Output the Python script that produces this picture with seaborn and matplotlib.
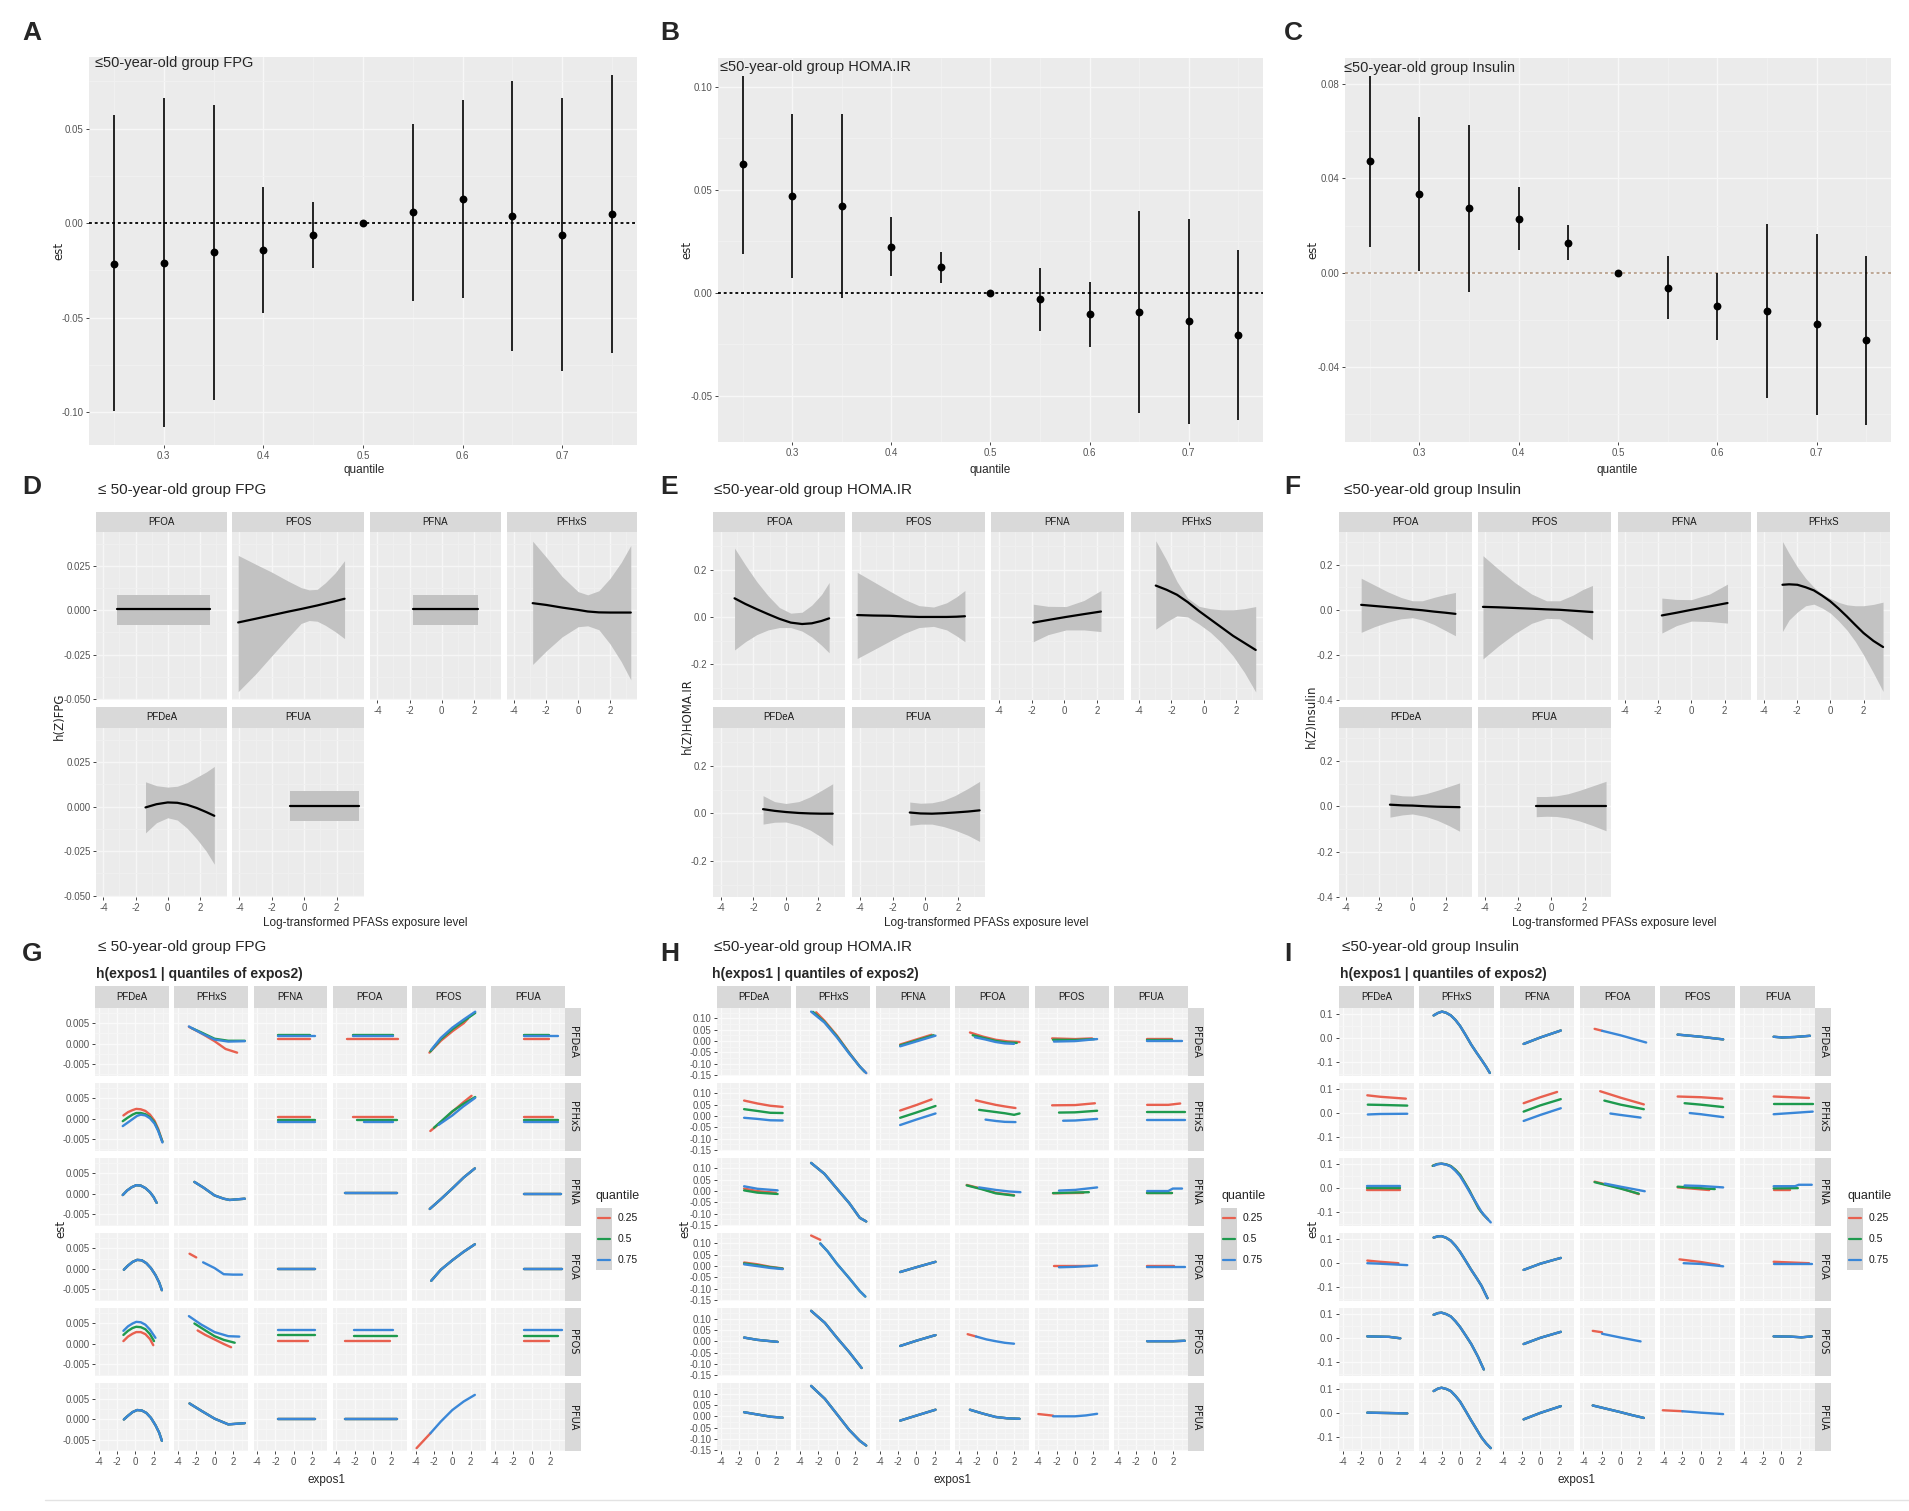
import matplotlib
matplotlib.use('Agg')
import matplotlib.pyplot as plt
import seaborn as sns
from matplotlib.ticker import FixedLocator
from matplotlib.lines import Line2D

sns.set_theme(style='darkgrid')
plt.rcParams['font.family'] = ['Liberation Sans Narrow', 'Liberation Sans', 'DejaVu Sans']
plt.rcParams['axes.unicode_minus'] = False

# ---------------- DATA: panels A-C (overall effect by quantile) ----------------
QUANT = [0.25, 0.30, 0.35, 0.40, 0.45, 0.50, 0.55, 0.60, 0.65, 0.70, 0.75]
A_EST = [-0.0216, -0.021, -0.0153, -0.014, -0.0061, 0.0, 0.0058, 0.0128, 0.0039, -0.0061, 0.0047]
A_LO = [-0.0995, -0.108, -0.0935, -0.0474, -0.0237, 0.0, -0.0412, -0.0395, -0.0675, -0.078, -0.0688]
A_HI = [0.057, 0.066, 0.0623, 0.019, 0.0114, 0.0, 0.0526, 0.0654, 0.0754, 0.0661, 0.0786]
B_EST = [0.0624, 0.0469, 0.0423, 0.0224, 0.0124, 0.0, -0.0031, -0.0103, -0.0095, -0.0139, -0.0203]
B_LO = [0.0189, 0.0074, -0.0024, 0.0084, 0.0048, 0.0, -0.0185, -0.0265, -0.0585, -0.0639, -0.0618]
B_HI = [0.1055, 0.0866, 0.0866, 0.0366, 0.0197, 0.0, 0.0121, 0.0052, 0.0395, 0.0358, 0.021]
C_EST = [0.0473, 0.0332, 0.0274, 0.0229, 0.0127, 0.0, -0.0065, -0.0143, -0.0163, -0.0219, -0.0287]
C_LO = [0.011, 0.0007, -0.0082, 0.0095, 0.0054, 0.0, -0.0198, -0.0286, -0.0533, -0.0604, -0.0646]
C_HI = [0.0837, 0.066, 0.0629, 0.0363, 0.0201, 0.0, 0.0071, 0.0, 0.0208, 0.0163, 0.0071]

# ---------------- DATA: panels D-F (univariate exposure-response) ----------------
FACET_ORDER = ['PFOA', 'PFOS', 'PFNA', 'PFHxS', 'PFDeA', 'PFUA']
D_X = {'PFOA': [-3.18, 2.64],
       'PFOS': [-4.08, -3.0, -2.0, -1.0, -0.2, 0.3, 0.8, 1.3, 1.9, 2.49],
       'PFNA': [-1.79, 2.28],
       'PFHxS': [-2.85, -2.0, -1.0, 0.0, 0.6, 1.3, 2.0, 2.7, 3.3],
       'PFDeA': [-1.38, -0.7, 0.0, 0.6, 1.2, 1.8, 2.4, 2.9],
       'PFUA': [-0.85, 3.36]}
D_EST = {'PFOA': [0.0005, 0.0005],
         'PFOS': [-0.0069, -0.0048, -0.0028, -0.0008, 0.0007, 0.0017, 0.0027, 0.0038, 0.0051, 0.0065],
         'PFNA': [0.0005, 0.0005],
         'PFHxS': [0.004, 0.003, 0.0015, 0.0002, -0.0007, -0.0012, -0.0013, -0.0013, -0.0013],
         'PFDeA': [-0.0004, 0.0014, 0.0024, 0.0022, 0.0011, -0.0007, -0.003, -0.0051],
         'PFUA': [0.0005, 0.0005]}
D_LO = {'PFOA': [-0.0083, -0.0083],
        'PFOS': [-0.046, -0.036, -0.0257, -0.0155, -0.0075, -0.0058, -0.0062, -0.0085, -0.012, -0.016],
        'PFNA': [-0.0083, -0.0083],
        'PFHxS': [-0.0306, -0.023, -0.015, -0.0093, -0.0088, -0.011, -0.019, -0.029, -0.0393],
        'PFDeA': [-0.0147, -0.009, -0.0062, -0.0075, -0.012, -0.018, -0.025, -0.0323],
        'PFUA': [-0.0083, -0.0083]}
D_HI = {'PFOA': [0.0086, 0.0086],
        'PFOS': [0.031, 0.026, 0.0215, 0.0165, 0.0128, 0.0115, 0.0118, 0.0155, 0.021, 0.028],
        'PFNA': [0.0086, 0.0086],
        'PFHxS': [0.039, 0.030, 0.019, 0.0105, 0.0087, 0.011, 0.018, 0.027, 0.0366],
        'PFDeA': [0.014, 0.0118, 0.011, 0.0115, 0.0135, 0.0165, 0.0195, 0.0226],
        'PFUA': [0.0086, 0.0086]}

E_X = {'PFOA': [-3.17, -2.5, -1.8, -1.1, -0.4, 0.3, 1.0, 1.6, 2.2, 2.67],
       'PFOS': [-4.18, -3.2, -2.2, -1.3, -0.4, 0.5, 1.3, 1.9, 2.42],
       'PFNA': [-1.91, -1.0, 0.1, 1.2, 2.24],
       'PFHxS': [-2.97, -2.3, -1.66, -1.0, -0.3, 0.4, 1.1, 1.8, 2.5, 3.2],
       'PFDeA': [-1.41, -0.7, 0.0, 0.8, 1.5, 2.2, 2.89],
       'PFUA': [-0.96, -0.3, 0.4, 1.1, 1.8, 2.6, 3.32]}
E_EST = {'PFOA': [0.079, 0.055, 0.033, 0.012, -0.008, -0.024, -0.030, -0.027, -0.017, -0.006],
         'PFOS': [0.008, 0.006, 0.005, 0.002, 0.0, 0.0, 0.0, 0.001, 0.003],
         'PFNA': [-0.024, -0.013, 0.0, 0.012, 0.023],
         'PFHxS': [0.133, 0.115, 0.094, 0.063, 0.025, -0.01, -0.045, -0.08, -0.11, -0.14],
         'PFDeA': [0.018, 0.011, 0.006, 0.002, 0.0, -0.001, -0.001],
         'PFUA': [0.004, 0.0, -0.001, 0.001, 0.004, 0.008, 0.013]}
E_LO = {'PFOA': [-0.14, -0.105, -0.075, -0.055, -0.045, -0.045, -0.06, -0.085, -0.12, -0.152],
        'PFOS': [-0.176, -0.14, -0.103, -0.07, -0.045, -0.04, -0.055, -0.08, -0.105],
        'PFNA': [-0.105, -0.075, -0.055, -0.055, -0.062],
        'PFHxS': [-0.052, -0.02, 0.005, 0.0, -0.03, -0.065, -0.11, -0.165, -0.235, -0.318],
        'PFDeA': [-0.045, -0.037, -0.036, -0.05, -0.07, -0.1, -0.135],
        'PFUA': [-0.05, -0.045, -0.045, -0.055, -0.07, -0.092, -0.118]}
E_HI = {'PFOA': [0.292, 0.22, 0.15, 0.09, 0.04, 0.016, 0.02, 0.05, 0.095, 0.146],
        'PFOS': [0.189, 0.15, 0.11, 0.075, 0.048, 0.042, 0.06, 0.085, 0.112],
        'PFNA': [0.054, 0.045, 0.044, 0.07, 0.112],
        'PFHxS': [0.323, 0.24, 0.15, 0.08, 0.045, 0.035, 0.03, 0.03, 0.035, 0.044],
        'PFDeA': [0.075, 0.05, 0.042, 0.05, 0.07, 0.097, 0.125],
        'PFUA': [0.048, 0.043, 0.045, 0.055, 0.075, 0.105, 0.135]}

F_X = {'PFOA': [-3.1, -2.3, -1.5, -0.7, 0.0, 0.6, 1.3, 2.0, 2.6],
       'PFOS': [-4.14, -3.2, -2.2, -1.2, -0.3, 0.5, 1.3, 1.9, 2.48],
       'PFNA': [-1.79, -0.9, 0.0, 1.1, 2.18],
       'PFHxS': [-2.9, -2.5, -2.0, -1.5, -1.0, -0.5, 0.0, 0.5, 1.0, 1.5, 2.0, 2.6, 3.18],
       'PFDeA': [-1.36, -0.6, 0.0, 0.8, 1.5, 2.2, 2.85],
       'PFUA': [-0.92, -0.3, 0.3, 1.0, 1.7, 2.5, 3.3]}
F_EST = {'PFOA': [0.022, 0.017, 0.012, 0.007, 0.002, -0.002, -0.008, -0.013, -0.018],
         'PFOS': [0.013, 0.011, 0.008, 0.005, 0.002, 0.0, -0.004, -0.007, -0.01],
         'PFNA': [-0.025, -0.013, 0.0, 0.015, 0.03],
         'PFHxS': [0.111, 0.113, 0.111, 0.1, 0.086, 0.063, 0.037, 0.005, -0.03, -0.067, -0.103, -0.138, -0.165],
         'PFDeA': [0.007, 0.004, 0.003, 0.0, -0.002, -0.003, -0.004],
         'PFUA': [0.0, 0.0, 0.0, 0.0, 0.0, 0.0, 0.0]}
F_LO = {'PFOA': [-0.1, -0.075, -0.055, -0.04, -0.035, -0.045, -0.065, -0.092, -0.115],
        'PFOS': [-0.218, -0.16, -0.105, -0.06, -0.038, -0.04, -0.075, -0.105, -0.133],
        'PFNA': [-0.103, -0.07, -0.05, -0.052, -0.059],
        'PFHxS': [-0.096, -0.045, -0.01, 0.018, 0.025, 0.008, -0.015, -0.05, -0.09, -0.14, -0.2, -0.28, -0.362],
        'PFDeA': [-0.048, -0.038, -0.034, -0.045, -0.062, -0.085, -0.11],
        'PFUA': [-0.046, -0.044, -0.045, -0.052, -0.065, -0.085, -0.108]}
F_HI = {'PFOA': [0.14, 0.11, 0.08, 0.055, 0.04, 0.04, 0.055, 0.068, 0.077],
        'PFOS': [0.24, 0.18, 0.12, 0.07, 0.04, 0.04, 0.065, 0.09, 0.108],
        'PFNA': [0.052, 0.046, 0.045, 0.07, 0.114],
        'PFHxS': [0.303, 0.25, 0.19, 0.14, 0.1, 0.07, 0.05, 0.033, 0.022, 0.018, 0.018, 0.024, 0.034],
        'PFDeA': [0.054, 0.046, 0.045, 0.055, 0.07, 0.087, 0.103],
        'PFUA': [0.043, 0.043, 0.046, 0.055, 0.07, 0.09, 0.11]}

# ---------------- DATA: panels G-I (bivariate: expos1 | quantiles of expos2) ----------------
PFAS = ['PFDeA', 'PFHxS', 'PFNA', 'PFOA', 'PFOS', 'PFUA']
QLEVELS = [0.25, 0.5, 0.75]
QLABELS = ['0.25', '0.5', '0.75']
# (row = expos2, col = expos1, quantile or 'all', x values, est values)
G_CURVES = [
    ('PFDeA', 'PFHxS', 0.25, [-2.8, -1.5, 0.0, 1.2, 2.46], [0.0041, 0.0026, 0.0006, -0.0013, -0.0022]),
    ('PFDeA', 'PFHxS', 0.5, [-2.5, -1.5, 0.0, 1.5, 3.3], [0.0038, 0.0028, 0.0012, 0.0007, 0.0007]),
    ('PFDeA', 'PFHxS', 0.75, [-2.8, -1.5, 0.0, 1.5, 3.3], [0.0042, 0.0026, 0.001, 0.0005, 0.0006]),
    ('PFDeA', 'PFNA', 0.25, [-1.7, 1.8], [0.0011, 0.0011]),
    ('PFDeA', 'PFNA', 0.5, [-1.7, 1.8], [0.0021, 0.0021]),
    ('PFDeA', 'PFNA', 0.75, [-1.7, 2.3], [0.0018, 0.0018]),
    ('PFDeA', 'PFOA', 0.25, [-2.8, 2.7], [0.0011, 0.0011]),
    ('PFDeA', 'PFOA', 0.5, [-2.24, 2.15], [0.0021, 0.0021]),
    ('PFDeA', 'PFOA', 0.75, [-2.24, 2.15], [0.0019, 0.0019]),
    ('PFDeA', 'PFOS', 0.25, [-2.5, -1.25, 0.0, 1.25, 1.7], [-0.0022, 0.0007, 0.003, 0.005, 0.0061]),
    ('PFDeA', 'PFOS', 0.5, [-2.4, -1.25, 0.0, 1.25, 2.5], [-0.0019, 0.0011, 0.0035, 0.0055, 0.0075]),
    ('PFDeA', 'PFOS', 0.75, [-2.3, -1.25, 0.0, 1.25, 2.5], [-0.0015, 0.0014, 0.0039, 0.0059, 0.0078]),
    ('PFDeA', 'PFUA', 0.25, [-0.85, 1.9], [0.0011, 0.0011]),
    ('PFDeA', 'PFUA', 0.5, [-0.85, 1.9], [0.0021, 0.0021]),
    ('PFDeA', 'PFUA', 0.75, [-0.85, 2.9], [0.0018, 0.0018]),

    ('PFHxS', 'PFDeA', 0.25, [-1.3, -0.8, -0.3, 0.1, 0.6, 1.1, 1.6, 2.1, 2.5, 2.96],
     [0.0008, 0.0016, 0.0021, 0.0024, 0.0023, 0.0019, 0.001, -0.0005, -0.0025, -0.0056]),
    ('PFHxS', 'PFDeA', 0.5, [-1.37, -0.8, -0.3, 0.1, 0.6, 1.1, 1.6, 2.1, 2.5, 2.96],
     [-0.0006, 0.0003, 0.001, 0.0014, 0.0014, 0.0011, 0.0004, -0.0009, -0.0028, -0.0056]),
    ('PFHxS', 'PFDeA', 0.75, [-1.37, -0.8, -0.3, 0.2, 0.6, 1.1, 1.6, 2.1, 2.5, 2.96],
     [-0.0018, -0.0009, -0.0001, 0.0007, 0.001, 0.0008, 0.0001, -0.0012, -0.003, -0.0058]),
    ('PFHxS', 'PFNA', 0.25, [-1.7, 1.8], [0.0004, 0.0004]),
    ('PFHxS', 'PFNA', 0.5, [-1.7, 2.3], [-0.0002, -0.0002]),
    ('PFHxS', 'PFNA', 0.75, [-1.7, 2.3], [-0.0008, -0.0008]),
    ('PFHxS', 'PFOA', 0.25, [-2.24, 2.15], [0.0004, 0.0004]),
    ('PFHxS', 'PFOA', 0.5, [-1.8, 2.6], [-0.0002, -0.0002]),
    ('PFHxS', 'PFOA', 0.75, [-1.0, 2.15], [-0.0008, -0.0008]),
    ('PFHxS', 'PFOS', 0.25, [-2.4, -1.2, 0.0, 1.2, 2.1], [-0.003, -0.0008, 0.0017, 0.004, 0.0056]),
    ('PFHxS', 'PFOS', 0.5, [-2.0, -1.0, 0.0, 1.2, 2.5], [-0.0022, -0.0002, 0.0018, 0.0036, 0.0053]),
    ('PFHxS', 'PFOS', 0.75, [-1.5, 0.0, 1.2, 2.5], [-0.0015, 0.0008, 0.003, 0.0051]),
    ('PFHxS', 'PFUA', 0.25, [-0.85, 2.3], [0.0004, 0.0004]),
    ('PFHxS', 'PFUA', 0.5, [-0.85, 2.9], [-0.0002, -0.0002]),
    ('PFHxS', 'PFUA', 0.75, [-0.85, 2.9], [-0.0008, -0.0008]),

    ('PFNA', 'PFDeA', 'all', [-1.37, -0.9, -0.4, 0.1, 0.6, 1.1, 1.6, 2.0, 2.33],
     [-0.0003, 0.0008, 0.0016, 0.0021, 0.002, 0.0014, 0.0004, -0.0008, -0.0022]),
    ('PFNA', 'PFHxS', 'all', [-2.2, -1.2, 0.0, 1.0, 1.65, 3.3], [0.0029, 0.0015, -0.0004, -0.0012, -0.0015, -0.0012]),
    ('PFNA', 'PFOA', 'all', [-3.1, 2.6], [0.0001, 0.0001]),
    ('PFNA', 'PFOS', 'all', [-2.46, -1.25, 0.0, 1.25, 2.46], [-0.0037, -0.0013, 0.0013, 0.004, 0.0062]),
    ('PFNA', 'PFUA', 'all', [-0.85, 3.2], [0.0, 0.0]),

    ('PFOA', 'PFDeA', 'all', [-1.25, -0.8, -0.3, 0.2, 0.7, 1.2, 1.7, 2.2, 2.6, 2.9],
     [-0.0002, 0.0008, 0.0017, 0.0022, 0.0021, 0.0014, 0.0002, -0.0015, -0.0033, -0.0052]),
    ('PFOA', 'PFHxS', 0.25, [-2.73, -2.0], [0.0037, 0.0028]),
    ('PFOA', 'PFHxS', 0.75, [-1.25, 0.0, 1.0, 2.0, 3.0], [0.0016, 0.0002, -0.0013, -0.0014, -0.0014]),
    ('PFOA', 'PFNA', 'all', [-1.7, 2.3], [0.0, 0.0]),
    ('PFOA', 'PFOS', 'all', [-2.3, -1.25, 0.0, 1.25, 2.46], [-0.0029, -0.0002, 0.0021, 0.0042, 0.006]),
    ('PFOA', 'PFUA', 'all', [-0.85, 3.3], [0.0, 0.0]),

    ('PFOS', 'PFDeA', 0.25, [-1.3, -0.8, -0.3, 0.1, 0.6, 1.1, 1.6, 1.96],
     [0.0007, 0.0018, 0.0025, 0.0029, 0.0029, 0.0024, 0.0012, -0.0003]),
    ('PFOS', 'PFDeA', 0.5, [-1.3, -0.8, -0.3, 0.1, 0.6, 1.1, 1.6, 2.04],
     [0.0022, 0.0032, 0.0039, 0.0042, 0.0041, 0.0036, 0.0024, 0.0007]),
    ('PFOS', 'PFDeA', 0.75, [-1.3, -0.8, -0.3, 0.1, 0.6, 1.1, 1.6, 2.2],
     [0.0032, 0.0043, 0.005, 0.0054, 0.0053, 0.0047, 0.0035, 0.0015]),
    ('PFOS', 'PFHxS', 0.25, [-1.85, -1.0, 0.0, 1.0, 1.8], [0.0033, 0.0022, 0.0011, 0.0, -0.0008]),
    ('PFOS', 'PFHxS', 0.5, [-2.2, -1.0, 0.0, 1.0, 2.2], [0.005, 0.0033, 0.0019, 0.001, 0.0003]),
    ('PFOS', 'PFHxS', 0.75, [-2.8, -1.5, 0.0, 1.5, 2.7], [0.0068, 0.0048, 0.0029, 0.0019, 0.0018]),
    ('PFOS', 'PFNA', 0.25, [-1.7, 1.6], [0.0008, 0.0008]),
    ('PFOS', 'PFNA', 0.5, [-1.7, 2.3], [0.0021, 0.0021]),
    ('PFOS', 'PFNA', 0.75, [-1.7, 2.3], [0.0034, 0.0034]),
    ('PFOS', 'PFOA', 0.25, [-3.1, 1.8], [0.0008, 0.0008]),
    ('PFOS', 'PFOA', 0.5, [-2.1, 2.6], [0.0019, 0.0019]),
    ('PFOS', 'PFOA', 0.75, [-2.1, 2.15], [0.0033, 0.0033]),
    ('PFOS', 'PFUA', 0.25, [-0.85, 1.9], [0.0008, 0.0008]),
    ('PFOS', 'PFUA', 0.5, [-0.85, 2.9], [0.0019, 0.0019]),
    ('PFOS', 'PFUA', 0.75, [-0.85, 3.3], [0.0033, 0.0033]),

    ('PFUA', 'PFDeA', 'all', [-1.25, -0.8, -0.3, 0.2, 0.7, 1.2, 1.7, 2.2, 2.6, 2.9],
     [-0.0001, 0.0008, 0.0017, 0.0022, 0.0021, 0.0015, 0.0003, -0.0015, -0.0033, -0.0053]),
    ('PFUA', 'PFHxS', 'all', [-2.73, -1.5, 0.0, 1.5, 3.3], [0.0038, 0.0021, 0.0001, -0.0013, -0.001]),
    ('PFUA', 'PFNA', 'all', [-1.7, 2.3], [0.0, 0.0]),
    ('PFUA', 'PFOA', 'all', [-3.1, 2.6], [0.0, 0.0]),
    ('PFUA', 'PFOS', 0.25, [-3.9, -2.4], [-0.0071, -0.0035]),
    ('PFUA', 'PFOS', 0.75, [-2.4, -1.25, 0.0, 1.25, 2.46], [-0.0035, -0.0006, 0.0022, 0.0043, 0.0059]),
]

H_CURVES = [
    ('PFDeA', 'PFHxS', 0.25, [-2.25, -1.35, 0.0, 1.35, 2.5, 3.2], [0.126, 0.089, 0.024, -0.052, -0.113, -0.142]),
    ('PFDeA', 'PFHxS', 0.5, [-2.6, -1.35, 0.0, 1.35, 2.5, 3.0], [0.128, 0.084, 0.02, -0.054, -0.113, -0.135]),
    ('PFDeA', 'PFHxS', 0.75, [-2.8, -1.35, 0.0, 1.35, 2.5, 3.2], [0.129, 0.081, 0.016, -0.056, -0.113, -0.142]),
    ('PFDeA', 'PFNA', 0.25, [-1.75, 1.67], [-0.016, 0.027]),
    ('PFDeA', 'PFNA', 0.5, [-1.75, 1.9], [-0.02, 0.025]),
    ('PFDeA', 'PFNA', 0.75, [-1.75, 2.1], [-0.024, 0.023]),
    ('PFDeA', 'PFOA', 0.25, [-2.8, -1.4, 0.0, 1.3, 2.6], [0.037, 0.019, 0.005, -0.002, -0.005]),
    ('PFDeA', 'PFOA', 0.5, [-2.5, -1.2, 0.0, 1.2, 2.3], [0.025, 0.012, 0.0, -0.007, -0.009]),
    ('PFDeA', 'PFOA', 0.75, [-2.25, -1.1, 0.0, 1.0, 2.0], [0.016, 0.006, -0.005, -0.011, -0.013]),
    ('PFDeA', 'PFOS', 0.25, [-2.5, 0.0, 1.85], [0.011, 0.008, 0.011]),
    ('PFDeA', 'PFOS', 0.5, [-2.4, 0.0, 2.1], [0.005, 0.004, 0.008]),
    ('PFDeA', 'PFOS', 0.75, [-2.3, 0.0, 2.4], [-0.003, -0.001, 0.008]),
    ('PFDeA', 'PFUA', 0.25, [-0.8, 1.9], [0.008, 0.008]),
    ('PFDeA', 'PFUA', 0.5, [-0.8, 1.9], [0.004, 0.004]),
    ('PFDeA', 'PFUA', 0.75, [-0.8, 3.0], [0.0, 0.0]),

    ('PFHxS', 'PFDeA', 0.25, [-1.45, 0.0, 1.4, 2.75], [0.068, 0.055, 0.045, 0.04]),
    ('PFHxS', 'PFDeA', 0.5, [-1.45, 0.0, 1.4, 2.75], [0.03, 0.022, 0.014, 0.013]),
    ('PFHxS', 'PFDeA', 0.75, [-1.45, 0.0, 1.4, 2.75], [-0.008, -0.013, -0.019, -0.02]),
    ('PFHxS', 'PFNA', 0.25, [-1.75, 0.0, 1.67], [0.024, 0.048, 0.073]),
    ('PFHxS', 'PFNA', 0.5, [-1.75, 0.0, 2.1], [-0.008, 0.015, 0.044]),
    ('PFHxS', 'PFNA', 0.75, [-1.75, 0.0, 2.1], [-0.04, -0.016, 0.011]),
    ('PFHxS', 'PFOA', 0.25, [-2.16, -1.0, 0.0, 1.0, 2.16], [0.069, 0.058, 0.049, 0.042, 0.035]),
    ('PFHxS', 'PFOA', 0.5, [-1.8, -0.5, 1.0, 2.0, 2.6], [0.027, 0.02, 0.012, 0.005, 0.011]),
    ('PFHxS', 'PFOA', 0.75, [-1.1, 0.0, 1.0, 2.16], [-0.016, -0.022, -0.026, -0.027]),
    ('PFHxS', 'PFOS', 0.25, [-2.5, 0.0, 2.16], [0.047, 0.048, 0.056]),
    ('PFHxS', 'PFOS', 0.5, [-1.75, 0.0, 2.4], [0.015, 0.016, 0.023]),
    ('PFHxS', 'PFOS', 0.75, [-1.3, 0.0, 2.4], [-0.021, -0.02, -0.013]),
    ('PFHxS', 'PFUA', 0.25, [-0.8, 1.5, 2.8], [0.049, 0.049, 0.055]),
    ('PFHxS', 'PFUA', 0.5, [-0.8, 3.3], [0.019, 0.019]),
    ('PFHxS', 'PFUA', 0.75, [-0.8, 3.3], [-0.016, -0.016]),

    ('PFNA', 'PFDeA', 0.25, [-1.45, 0.0, 2.0], [0.011, 0.0, -0.008]),
    ('PFNA', 'PFDeA', 0.5, [-1.45, 0.0, 2.2], [0.003, -0.007, -0.013]),
    ('PFNA', 'PFDeA', 0.75, [-1.45, 0.0, 2.2], [0.021, 0.01, 0.003]),
    ('PFNA', 'PFHxS', 'all', [-2.8, -1.35, 0.0, 1.35, 2.5, 3.2], [0.124, 0.076, 0.011, -0.053, -0.118, -0.134]),
    ('PFNA', 'PFOA', 0.25, [-3.15, -1.5, 0.0, 2.0], [0.027, 0.01, -0.008, -0.018]),
    ('PFNA', 'PFOA', 0.5, [-3.15, -1.5, 0.0, 2.0], [0.025, 0.008, -0.01, -0.02]),
    ('PFNA', 'PFOA', 0.75, [-1.8, 0.0, 1.5, 2.7], [0.016, 0.005, -0.002, -0.005]),
    ('PFNA', 'PFOS', 0.25, [-2.4, 0.9], [-0.01, -0.008]),
    ('PFNA', 'PFOS', 0.5, [-2.4, 1.5], [-0.009, -0.005]),
    ('PFNA', 'PFOS', 0.75, [-1.75, 0.0, 2.4], [0.002, 0.005, 0.016]),
    ('PFNA', 'PFUA', 0.25, [-0.8, 1.9], [-0.01, -0.01]),
    ('PFNA', 'PFUA', 0.5, [-0.8, 1.9], [-0.01, -0.01]),
    ('PFNA', 'PFUA', 0.75, [-0.8, 1.5, 2.0, 3.0], [0.0, 0.0, 0.011, 0.011]),

    ('PFOA', 'PFDeA', 0.25, [-1.45, 0.0, 1.4, 2.75], [0.016, 0.008, -0.003, -0.01]),
    ('PFOA', 'PFDeA', 0.5, [-1.45, 0.0, 1.4, 2.75], [0.012, 0.004, -0.005, -0.011]),
    ('PFOA', 'PFDeA', 0.75, [-1.45, 0.0, 1.4, 2.75], [0.008, 0.0, -0.008, -0.013]),
    ('PFOA', 'PFHxS', 0.25, [-2.8, -1.8], [0.135, 0.116]),
    ('PFOA', 'PFHxS', 0.5, [-1.8, -1.0, 0.0, 1.35, 2.5, 3.1], [0.10, 0.065, 0.011, -0.053, -0.11, -0.134]),
    ('PFOA', 'PFHxS', 0.75, [-1.8, -1.0, 0.0, 1.35, 2.5, 3.1], [0.10, 0.065, 0.011, -0.053, -0.11, -0.134]),
    ('PFOA', 'PFNA', 'all', [-1.75, 0.0, 2.1], [-0.026, -0.005, 0.019]),
    ('PFOA', 'PFOS', 0.25, [-2.3, 1.6], [0.0, 0.0]),
    ('PFOA', 'PFOS', 0.75, [-1.75, 0.0, 2.4], [-0.005, -0.003, 0.003]),
    ('PFOA', 'PFUA', 0.25, [-0.8, 2.1], [0.0, 0.0]),
    ('PFOA', 'PFUA', 0.75, [-0.8, 3.3], [-0.005, -0.005]),

    ('PFOS', 'PFDeA', 'all', [-1.45, 0.0, 2.2], [0.016, 0.006, -0.003]),
    ('PFOS', 'PFHxS', 'all', [-2.8, -1.3, 0.0, 1.35, 2.7], [0.134, 0.081, 0.016, -0.048, -0.118]),
    ('PFOS', 'PFNA', 'all', [-1.75, 0.0, 2.1], [-0.021, 0.002, 0.027]),
    ('PFOS', 'PFOA', 0.25, [-3.05, -2.15], [0.031, 0.021]),
    ('PFOS', 'PFOA', 0.75, [-2.15, -1.0, 0.0, 1.0, 2.0], [0.021, 0.008, 0.0, -0.007, -0.011]),
    ('PFOS', 'PFUA', 'all', [-0.8, 2.0, 3.3], [0.0, 0.0, 0.002]),

    ('PFUA', 'PFDeA', 'all', [-1.45, 0.0, 1.5, 2.75], [0.018, 0.008, -0.002, -0.006]),
    ('PFUA', 'PFHxS', 'all', [-2.8, -1.3, 0.0, 1.35, 2.5, 3.2], [0.134, 0.077, 0.01, -0.06, -0.108, -0.129]),
    ('PFUA', 'PFNA', 'all', [-1.75, 0.0, 2.1], [-0.019, 0.003, 0.029]),
    ('PFUA', 'PFOA', 'all', [-2.8, -1.4, 0.0, 1.3, 2.6], [0.029, 0.012, -0.003, -0.009, -0.011]),
    ('PFUA', 'PFOS', 0.25, [-4.0, -2.4], [0.01, 0.003]),
    ('PFUA', 'PFOS', 0.75, [-2.4, 0.0, 1.2, 2.4], [0.0, 0.0, 0.004, 0.011]),
]

I_CURVES = [
    ('PFDeA', 'PFHxS', 'all', [-2.85, -2.4, -1.95, -1.5, -1.0, -0.5, 0.0, 0.6, 1.2, 1.8, 2.3, 2.8, 3.2],
     [0.094, 0.104, 0.11, 0.105, 0.094, 0.075, 0.05, 0.012, -0.028, -0.063, -0.091, -0.12, -0.146]),
    ('PFDeA', 'PFNA', 'all', [-1.8, 0.0, 2.2], [-0.025, 0.002, 0.031]),
    ('PFDeA', 'PFOA', 0.25, [-2.8, -2.0], [0.038, 0.03]),
    ('PFDeA', 'PFOA', 0.75, [-2.0, 0.0, 2.75], [0.03, 0.011, -0.019]),
    ('PFDeA', 'PFOS', 'all', [-2.5, 0.0, 2.4], [0.014, 0.005, -0.006]),
    ('PFDeA', 'PFUA', 'all', [-0.8, 0.1, 1.5, 3.1], [0.005, 0.002, 0.004, 0.009]),

    ('PFHxS', 'PFDeA', 0.25, [-1.35, 0.0, 2.8], [0.074, 0.068, 0.06]),
    ('PFHxS', 'PFDeA', 0.5, [-1.3, 0.0, 2.95], [0.035, 0.034, 0.031]),
    ('PFHxS', 'PFDeA', 0.75, [-1.3, 0.0, 2.95], [-0.006, -0.004, -0.003]),
    ('PFHxS', 'PFNA', 0.25, [-1.8, 0.0, 1.8], [0.041, 0.066, 0.088]),
    ('PFHxS', 'PFNA', 0.5, [-1.8, 0.0, 2.2], [0.006, 0.032, 0.058]),
    ('PFHxS', 'PFNA', 0.75, [-1.8, 0.0, 2.2], [-0.033, -0.008, 0.02]),
    ('PFHxS', 'PFOA', 0.25, [-2.2, 0.0, 2.5], [0.091, 0.064, 0.036]),
    ('PFHxS', 'PFOA', 0.5, [-1.75, 0.0, 2.5], [0.052, 0.035, 0.016]),
    ('PFHxS', 'PFOA', 0.75, [-1.1, 0.0, 2.15], [-0.002, -0.008, -0.019]),
    ('PFHxS', 'PFOS', 0.25, [-2.5, 0.0, 2.3], [0.069, 0.066, 0.06]),
    ('PFHxS', 'PFOS', 0.5, [-1.75, 0.0, 2.4], [0.041, 0.035, 0.025]),
    ('PFHxS', 'PFOS', 0.75, [-1.2, 0.0, 2.4], [0.0, -0.005, -0.017]),
    ('PFHxS', 'PFUA', 0.25, [-0.8, 3.0], [0.069, 0.063]),
    ('PFHxS', 'PFUA', 0.5, [-0.8, 3.4], [0.036, 0.036]),
    ('PFHxS', 'PFUA', 0.75, [-0.8, 3.4], [-0.005, 0.006]),

    ('PFNA', 'PFDeA', 0.25, [-1.35, 2.2], [-0.006, -0.006]),
    ('PFNA', 'PFDeA', 0.5, [-1.35, 2.2], [0.002, 0.002]),
    ('PFNA', 'PFDeA', 0.75, [-1.35, 2.2], [0.009, 0.009]),
    ('PFNA', 'PFHxS', 0.25, [-2.95, -2.5, -2.0, -1.5, -1.0, -0.5, 0.0, 0.5, 1.0, 1.5, 2.0, 2.5, 3.0],
     [0.093, 0.1, 0.102, 0.099, 0.092, 0.076, 0.055, 0.023, -0.01, -0.048, -0.085, -0.11, -0.13]),
    ('PFNA', 'PFHxS', 0.5, [-2.95, -2.5, -2.0, -1.5, -1.0, -0.5, 0.0, 0.5, 1.0, 1.5, 2.0, 2.5, 3.0],
     [0.093, 0.1, 0.102, 0.099, 0.092, 0.076, 0.055, 0.023, -0.01, -0.048, -0.085, -0.11, -0.13]),
    ('PFNA', 'PFHxS', 0.75, [-2.85, -2.4, -2.0, -1.5, -1.0, -0.5, 0.0, 0.6, 1.2, 1.8, 2.3, 2.8, 3.3],
     [0.093, 0.1, 0.102, 0.098, 0.09, 0.072, 0.05, 0.012, -0.028, -0.066, -0.099, -0.122, -0.143]),
    ('PFNA', 'PFOA', 0.25, [-2.8, 0.0, 1.95], [0.027, 0.0, -0.025]),
    ('PFNA', 'PFOA', 0.5, [-2.8, 0.0, 1.95], [0.025, -0.002, -0.023]),
    ('PFNA', 'PFOA', 0.75, [-1.7, 0.0, 2.6], [0.019, 0.006, -0.013]),
    ('PFNA', 'PFOS', 0.25, [-2.5, 0.9], [0.003, -0.008]),
    ('PFNA', 'PFOS', 0.5, [-2.5, 1.5], [0.006, -0.004]),
    ('PFNA', 'PFOS', 0.75, [-1.75, 0.0, 2.4], [0.011, 0.009, 0.003]),
    ('PFNA', 'PFUA', 0.25, [-0.8, 1.0], [-0.006, -0.006]),
    ('PFNA', 'PFUA', 0.5, [-0.8, 1.8], [-0.001, 0.0]),
    ('PFNA', 'PFUA', 0.75, [-0.8, 1.5, 1.9, 3.3], [0.008, 0.008, 0.014, 0.014]),

    ('PFOA', 'PFDeA', 0.25, [-1.35, 0.0, 2.0], [0.011, 0.006, 0.0]),
    ('PFOA', 'PFDeA', 0.75, [-1.35, 0.0, 2.95], [0.0, -0.002, -0.008]),
    ('PFOA', 'PFHxS', 'all', [-2.85, -2.4, -2.0, -1.5, -1.0, -0.5, 0.0, 0.6, 1.2, 1.8, 2.3, 2.95],
     [0.107, 0.112, 0.113, 0.106, 0.094, 0.073, 0.047, 0.01, -0.028, -0.063, -0.094, -0.146]),
    ('PFOA', 'PFNA', 'all', [-1.8, 0.0, 2.2], [-0.028, -0.002, 0.022]),
    ('PFOA', 'PFOS', 0.25, [-2.3, 0.0, 2.0], [0.016, 0.005, -0.008]),
    ('PFOA', 'PFOS', 0.75, [-1.85, 0.0, 2.4], [0.0, -0.003, -0.013]),
    ('PFOA', 'PFUA', 0.25, [-0.8, 3.0], [0.006, 0.0]),
    ('PFOA', 'PFUA', 0.75, [-0.8, 3.3], [-0.003, -0.003]),

    ('PFOS', 'PFDeA', 'all', [-1.35, 1.0, 2.2], [0.008, 0.006, 0.0]),
    ('PFOS', 'PFHxS', 'all', [-2.85, -2.4, -2.0, -1.5, -1.0, -0.5, 0.0, 0.6, 1.2, 1.9, 2.55],
     [0.098, 0.105, 0.107, 0.101, 0.091, 0.071, 0.047, 0.012, -0.024, -0.075, -0.13]),
    ('PFOS', 'PFNA', 'all', [-1.8, 0.0, 2.2], [-0.024, 0.002, 0.027]),
    ('PFOS', 'PFOA', 0.25, [-3.0, -2.0], [0.031, 0.025]),
    ('PFOS', 'PFOA', 0.75, [-2.0, 0.0, 2.15], [0.019, 0.003, -0.013]),
    ('PFOS', 'PFUA', 'all', [-0.8, 1.0, 2.2, 3.3], [0.008, 0.007, 0.004, 0.008]),

    ('PFUA', 'PFDeA', 'all', [-1.35, 2.95], [0.003, 0.0]),
    ('PFUA', 'PFHxS', 'all', [-2.85, -2.4, -2.0, -1.5, -1.0, -0.5, 0.0, 0.6, 1.2, 1.8, 2.3, 2.8, 3.3],
     [0.093, 0.103, 0.107, 0.102, 0.093, 0.073, 0.049, 0.01, -0.03, -0.068, -0.1, -0.125, -0.145]),
    ('PFUA', 'PFNA', 'all', [-1.8, 0.0, 2.2], [-0.025, 0.002, 0.03]),
    ('PFUA', 'PFOA', 'all', [-3.0, -1.5, 0.0, 1.2, 2.5], [0.033, 0.019, 0.005, -0.007, -0.019]),
    ('PFUA', 'PFOS', 0.25, [-4.1, -2.0], [0.013, 0.009]),
    ('PFUA', 'PFOS', 0.75, [-2.0, 0.0, 2.4], [0.009, 0.003, -0.003]),
]

# ---------------- FIGURE ----------------
W, H = 1909, 1511
fig = plt.figure(figsize=(W / 100, H / 100), dpi=100)
fig.patch.set_facecolor('white')

Q_COLORS = {0.25: '#E8604F', 0.5: '#1E9A4E', 0.75: '#3A87D8'}
PANEL_BG = '#EBEBEB'
GRID_BG = '#F1F1F1'
STRIP_BG = '#D9D9D9'
TICK_FS = 7
NARROW = ['Liberation Sans Narrow', 'Liberation Sans', 'DejaVu Sans']


def box(x0, y0, x1, y1):
    return fig.add_axes([x0 / W, 1 - y1 / H, (x1 - x0) / W, (y1 - y0) / H])


def ftext(x, y, s, **kw):
    fig.text(x / W, 1 - y / H, s, **kw)


def style(ax, bg, xlim, ylim, xt, xl, yt, yl, xminor, yminor, show_x, show_y, gmaj, gmin):
    ax.set_facecolor(bg)
    for sp in ax.spines.values():
        sp.set_visible(False)
    ax.set_xlim(xlim)
    ax.set_ylim(ylim)
    ax.xaxis.set_major_locator(FixedLocator(xt))
    ax.yaxis.set_major_locator(FixedLocator(yt))
    ax.xaxis.set_minor_locator(FixedLocator(xminor))
    ax.yaxis.set_minor_locator(FixedLocator(yminor))
    ax.set_xticklabels(xl)
    ax.set_yticklabels(yl)
    ax.grid(True, which='major', color=gmaj, lw=1.0)
    ax.grid(True, which='minor', color=gmin, lw=0.6)
    ax.set_axisbelow(True)
    ax.tick_params(which='major', length=2.5, width=0.7, color='#444444', labelsize=TICK_FS,
                   labelcolor='#555555', pad=1.5)
    ax.tick_params(which='minor', length=0)
    ax.tick_params(axis='x', bottom=show_x, labelbottom=show_x)
    ax.tick_params(axis='y', left=show_y, labelleft=show_y)
    ax.set_xlabel('')
    ax.set_ylabel('')


def strip(x0, y0, x1, y1, label, rot=0, fam=None, fs=7):
    s = box(x0, y0, x1, y1)
    s.set_facecolor(STRIP_BG)
    for sp in s.spines.values():
        sp.set_visible(False)
    s.grid(False)
    s.set_xticks([])
    s.set_yticks([])
    s.text(0.5, 0.5, label, ha='center', va='center', rotation=rot, fontsize=fs, color='#1A1A1A',
           transform=s.transAxes, family=fam if fam else NARROW)


# ---------- A-C ----------
QT = [0.3, 0.4, 0.5, 0.6, 0.7]
QTL = ['0.3', '0.4', '0.5', '0.6', '0.7']
QMIN = [0.25, 0.35, 0.45, 0.55, 0.65, 0.75]


def panel_abc(bx, est, lo, hi, ylim, yt, yl, ymin, title, title_xy, zero_col, letter, letter_x,
              est_x, ql_x):
    ax = box(*bx)
    style(ax, PANEL_BG, (0.225, 0.775), ylim, QT, QTL, yt, yl, QMIN, ymin, True, True,
          '#F7F7F7', '#F1F1F1')
    ax.axhline(0, color=zero_col, lw=1.3, ls=(0, (1.6, 1.6)), zorder=1)
    ax.vlines(QUANT, lo, hi, color='black', lw=1.2, zorder=2)
    sns.scatterplot(x=QUANT, y=est, ax=ax, color='black', s=32, linewidth=0, zorder=3, legend=False)
    ax.set_xlabel('')
    ax.set_ylabel('')
    ftext(title_xy[0], title_xy[1], title, fontsize=10.5, ha='left', va='center', family=NARROW)
    ftext(letter_x, 33, letter, fontsize=19, fontweight='bold', ha='left', va='center',
          family=['Liberation Sans', 'DejaVu Sans'])
    ftext(est_x, (bx[1] + bx[3]) / 2, 'est', fontsize=8.5, rotation=90, ha='center', va='center',
          family=['DejaVu Sans'])
    ftext(ql_x, 470, 'quantile', fontsize=8.5, ha='center', va='center', family=NARROW)


panel_abc((89, 57, 637, 445), A_EST, A_LO, A_HI, (-0.1173, 0.0879), [-0.10, -0.05, 0.0, 0.05],
          ['-0.10', '-0.05', '0.00', '0.05'], [-0.075, -0.025, 0.025, 0.075],
          '\u226450-year-old group FPG', (95, 63), 'black', 'A', 22, 59, 364)
panel_abc((718, 58, 1263, 442), B_EST, B_LO, B_HI, (-0.0724, 0.114), [-0.05, 0.0, 0.05, 0.10],
          ['-0.05', '0.00', '0.05', '0.10'], [-0.025, 0.025, 0.075],
          '\u226450-year-old group HOMA.IR', (720, 67), 'black', 'B', 660, 687, 990)
panel_abc((1345, 58, 1891, 442), C_EST, C_LO, C_HI, (-0.072, 0.0912), [-0.04, 0.0, 0.04, 0.08],
          ['-0.04', '0.00', '0.04', '0.08'], [-0.06, -0.02, 0.02, 0.06],
          '\u226450-year-old group Insulin', (1344, 68), '#B8A08C', 'C', 1284, 1313, 1617)

# ---------- D-F ----------
XT = [-4, -2, 0, 2]
XTL = ['-4', '-2', '0', '2']
XMIN = [-3, -1, 1, 3]
ROWS_DEF = [((512, 532), (532, 700)), ((707, 728), (728, 897))]


def panel_def(cols, X, EST, LO, HI, xlim, ylim, yt, yl, ymin, title, title_x, letter, letter_x,
              ylab, ylab_x, xlab_x):
    for i, name in enumerate(FACET_ORDER):
        r, c = divmod(i, 4)
        (sy0, sy1), (py0, py1) = ROWS_DEF[r]
        x0, x1 = cols[c]
        ax = box(x0, py0, x1, py1)
        show_x = (r == 1) or (c >= 2)
        style(ax, PANEL_BG, xlim, ylim, XT, XTL, yt, yl, XMIN, ymin, show_x, c == 0,
              '#F6F6F6', '#F0F0F0')
        ax.fill_between(X[name], LO[name], HI[name], color='#C2C2C2', lw=0, zorder=2)
        sns.lineplot(x=X[name], y=EST[name], ax=ax, color='black', lw=1.6, estimator=None,
                     sort=False, zorder=3)
        ax.set_xlabel('')
        ax.set_ylabel('')
        strip(x0, sy0, x1, sy1, name)
    ftext(title_x, 490, title, fontsize=11, ha='left', va='center', family=NARROW)
    ftext(letter_x, 487, letter, fontsize=19, fontweight='bold', ha='left', va='center',
          family=['Liberation Sans', 'DejaVu Sans'])
    ftext(ylab_x, 716, ylab, fontsize=8.5, rotation=90, ha='center', va='center', family=['DejaVu Sans'])
    ftext(xlab_x, 923, 'Log-transformed PFASs exposure level', fontsize=8.5, ha='center', va='center',
          family=NARROW)


panel_def([(96, 227), (232, 364), (370, 501), (507, 637)], D_X, D_EST, D_LO, D_HI, (-4.46, 3.69),
          (-0.0507, 0.0442), [-0.05, -0.025, 0.0, 0.025], ['-0.050', '-0.025', '0.000', '0.025'],
          [-0.0375, -0.0125, 0.0125, 0.0375], '\u2264 50-year-old group FPG', 98, 'D', 22, 'h(Z)FPG', 59, 365)
panel_def([(713, 845), (852, 985), (991, 1124), (1131, 1263)], E_X, E_EST, E_LO, E_HI, (-4.5, 3.65),
          (-0.352, 0.36), [-0.2, 0.0, 0.2], ['-0.2', '0.0', '0.2'], [-0.3, -0.1, 0.1, 0.3],
          '\u226450-year-old group HOMA.IR', 714, 'E', 660, 'h(Z)HOMA.IR', 687, 986)
panel_def([(1339, 1472), (1478, 1611), (1618, 1751), (1757, 1890)], F_X, F_EST, F_LO, F_HI, (-4.44, 3.6),
          (-0.4, 0.345), [-0.4, -0.2, 0.0, 0.2], ['-0.4', '-0.2', '0.0', '0.2'], [-0.3, -0.1, 0.1, 0.3],
          '\u226450-year-old group Insulin', 1344, 'F', 1284, 'h(Z)Insulin', 1311, 1614)

# ---------- G-I ----------
GRID_TOP, GRID_BOT, GAP_R = 1008, 1451, 7.5
ROW_H = (GRID_BOT - GRID_TOP - 5 * GAP_R) / 6


def panel_ghi(L, R, curves, ylim, yt, yl, ymin, title, title_x, letter, letter_x, est_x, xlab_x, leg_x):
    gap = 5.5
    cw = (R - L - 5 * gap) / 6
    axes = {}
    for r, rn in enumerate(PFAS):
        y0 = GRID_TOP + r * (ROW_H + GAP_R)
        y1 = y0 + ROW_H
        for c, cn in enumerate(PFAS):
            x0 = L + c * (cw + gap)
            x1 = x0 + cw
            ax = box(x0, y0, x1, y1)
            style(ax, GRID_BG, (-4.4, 3.65), ylim, XT, XTL, yt, yl, XMIN, ymin, r == 5, c == 0,
                  '#FAFAFA', '#F6F6F6')
            axes[(rn, cn)] = ax
            if r == 0:
                strip(x0, 986, x1, GRID_TOP, cn)
        strip(R, y0, R + 16, y1, rn, rot=-90, fam=['DejaVu Sans'], fs=7)
    for q in QLEVELS:
        for rn, cn, cq, xs, ys in curves:
            if cq == q or cq == 'all':
                sns.lineplot(x=xs, y=ys, ax=axes[(rn, cn)], color=Q_COLORS[q], lw=1.7,
                             estimator=None, sort=False, zorder=3)
    for ax in axes.values():
        ax.set_xlabel('')
        ax.set_ylabel('')
    ftext(title_x, 947, title, fontsize=11, ha='left', va='center', family=NARROW)
    ftext(title_x - 2, 974, 'h(expos1 | quantiles of expos2)', fontsize=10, ha='left', va='center',
          family=NARROW, fontweight='bold')
    ftext(letter_x, 954, letter, fontsize=19, fontweight='bold', ha='left', va='center',
          family=['Liberation Sans', 'DejaVu Sans'])
    ftext(est_x, 1229, 'est', fontsize=8.5, rotation=90, ha='center', va='center', family=['DejaVu Sans'])
    ftext(xlab_x, 1480, 'expos1', fontsize=8.5, ha='center', va='center', family=NARROW)
    # legend
    ftext(leg_x, 1196, 'quantile', fontsize=9, ha='left', va='center', family=NARROW)
    lax = box(leg_x, 1208, leg_x + 16, 1270)
    lax.set_facecolor('#D4D4D4')
    lax.grid(False)
    for sp in lax.spines.values():
        sp.set_visible(False)
    lax.set_xticks([])
    lax.set_yticks([])
    lax.set_xlim(0, 1)
    lax.set_ylim(3, 0)
    for k, q in enumerate(QLEVELS):
        lax.add_line(Line2D([0.12, 0.88], [k + 0.5, k + 0.5], color=Q_COLORS[q], lw=1.6))
        ftext(leg_x + 22, 1218 + k * 21, QLABELS[k], fontsize=7.5, ha='left', va='center',
              family=NARROW, color='#1A1A1A')


panel_ghi(95, 565, G_CURVES, (-0.0078, 0.0087), [-0.005, 0.0, 0.005], ['-0.005', '0.000', '0.005'],
          [-0.0075, -0.0025, 0.0025, 0.0075], '\u2264 50-year-old group FPG', 98, 'G', 22, 61, 327, 596)
panel_ghi(717, 1188, H_CURVES, (-0.153, 0.145), [-0.15, -0.10, -0.05, 0.0, 0.05, 0.10],
          ['-0.15', '-0.10', '-0.05', '0.00', '0.05', '0.10'], [-0.125, -0.075, -0.025, 0.025, 0.075, 0.125],
          '\u226450-year-old group HOMA.IR', 714, 'H', 660, 685, 952, 1221)
panel_ghi(1339, 1815, I_CURVES, (-0.157, 0.125), [-0.1, 0.0, 0.1], ['-0.1', '0.0', '0.1'],
          [-0.15, -0.05, 0.05], '\u226450-year-old group Insulin', 1342, 'I', 1284, 1313, 1576, 1847)

fig.add_artist(Line2D([45 / W, 1.0], [1 - 1500 / H, 1 - 1500 / H], color='#E3E3E3', lw=1))

fig.savefig('out.png', dpi=100, facecolor='white')
